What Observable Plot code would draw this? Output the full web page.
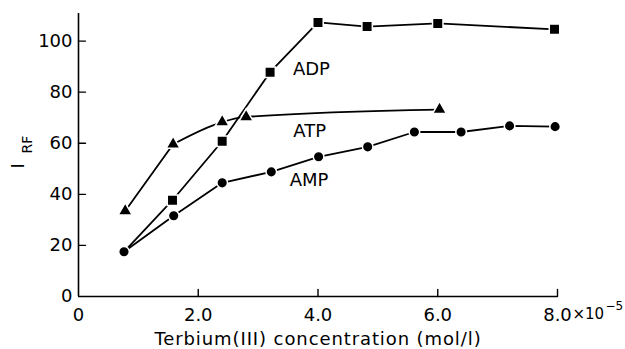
<!DOCTYPE html>
<html><head><meta charset="utf-8">
<script src="https://cdn.jsdelivr.net/npm/d3@7"></script>
<script src="https://cdn.jsdelivr.net/npm/@observablehq/plot@0.6"></script>
<style>body{margin:0;background:#fff}</style>
</head><body><div id="chart"></div>
<script>
// Terbium(III) concentration, ×10^-5 mol/l
const adpX = [0.76, 1.57, 2.40, 3.20, 4.00, 4.82, 6.00, 7.95];
const adpY = [17.5, 37.7, 60.8, 87.8, 107.3, 105.7, 106.9, 104.6];
const atpX = [0.78, 1.58, 2.40, 2.80, 6.03];
const atpY = [33.5, 59.6, 68.3, 70.3, 73.2];
const ampX = [0.76, 1.59, 2.40, 3.22, 4.01, 4.83, 5.61, 6.39, 7.20, 7.96];
const ampY = [17.5, 31.6, 44.5, 48.8, 54.7, 58.6, 64.4, 64.4, 66.8, 66.5];
const seriesNames = ["ADP", "ATP", "AMP"];
const labelX = [3.89, 3.86, 3.85];
const labelY = [89.1, 64.8, 45.6];
const xTicks = [0, 2, 4, 6, 8];
const xTickLabels = ["0", "2.0", "4.0", "6.0", "8.0"];
const yTicks = [0, 20, 40, 60, 80, 100];
const xLabel = "Terbium(III) concentration (mol/l)";

const adp = adpX.map((x, i) => ({x, y: adpY[i]}));
const atp = atpX.map((x, i) => ({x, y: atpY[i]}));
const amp = ampX.map((x, i) => ({x, y: ampY[i]}));
const labels = seriesNames.map((t, i) => ({t, x: labelX[i], y: labelY[i]}));
const tickShape = {draw(context, l) { context.moveTo(0, 0); context.lineTo(0, -l); }};

const chart = Plot.plot({
  width: 625, height: 349,
  marginLeft: 78, marginRight: 68, marginTop: 13, marginBottom: 53,
  style: {fontFamily: "DejaVu Sans", fontSize: "18px", color: "black", background: "white"},
  x: {domain: [0, 8]},
  y: {domain: [0, 110.8]},
  marks: [
    Plot.axisX({ticks: xTicks, tickSize: 0, tickPadding: 12, tickFormat: d => xTickLabels[xTicks.indexOf(d)], label: null}),
    Plot.axisY({ticks: yTicks, tickSize: 0, tickPadding: 6, label: null}),
    Plot.ruleX([0], {strokeWidth: 1.6}),
    Plot.ruleY([0], {strokeWidth: 1.6}),
    Plot.vector(yTicks.slice(1), {x: 0, y: d => d, length: 7, rotate: 90, anchor: "start", shape: tickShape, strokeWidth: 1.4}),
    Plot.vector(xTicks.slice(1), {x: d => d, y: 0, length: 7, rotate: 0, anchor: "start", shape: tickShape, strokeWidth: 1.4}),
    Plot.line(adp, {x: "x", y: "y", stroke: "black", strokeWidth: 1.8}),
    Plot.line(atp.slice(0, 2), {x: "x", y: "y", stroke: "black", strokeWidth: 1.8}),
    Plot.line(atp.slice(1), {x: "x", y: "y", stroke: "black", strokeWidth: 1.8, curve: "monotone-x"}),
    Plot.line(amp, {x: "x", y: "y", stroke: "black", strokeWidth: 1.8}),
    Plot.dot(adp.slice(1), {x: "x", y: "y", symbol: "square", r: 5.9, fill: "black", stroke: "white", strokeWidth: 1.5}),
    Plot.dot(atp, {x: "x", y: "y", symbol: "triangle", r: 5.2, fill: "black", stroke: "white", strokeWidth: 1.5}),
    Plot.dot(amp, {x: "x", y: "y", symbol: "circle", r: 5.3, fill: "black", stroke: "white", strokeWidth: 1.5}),
    Plot.text(labels, {x: "x", y: "y", text: "t", fontSize: 18, fill: "black"}),
    Plot.text([xLabel], {frameAnchor: "bottom", dy: 48, fontSize: 18, fill: "black"}),
    Plot.text(["×10"], {x: 8, y: 0, dx: 15, dy: 17.5, textAnchor: "start", fontSize: 15, fill: "black"}),
    Plot.text(["−5"], {x: 8, y: 0, dx: 48, dy: 10, textAnchor: "start", fontSize: 12, fill: "black"}),
    Plot.text(["I"], {frameAnchor: "left", dx: -60, dy: 13.5, rotate: -90, fontSize: 18, fill: "black"}),
    Plot.text(["RF"], {frameAnchor: "left", dx: -51, dy: -1.5, rotate: -90, fontSize: 14, fill: "black"})
  ]
});
d3.select(chart).selectAll("text").filter(function() { return this.textContent === xLabel; }).style("letter-spacing", "0.9px");
document.getElementById("chart").appendChild(chart);
</script>
</body></html>
